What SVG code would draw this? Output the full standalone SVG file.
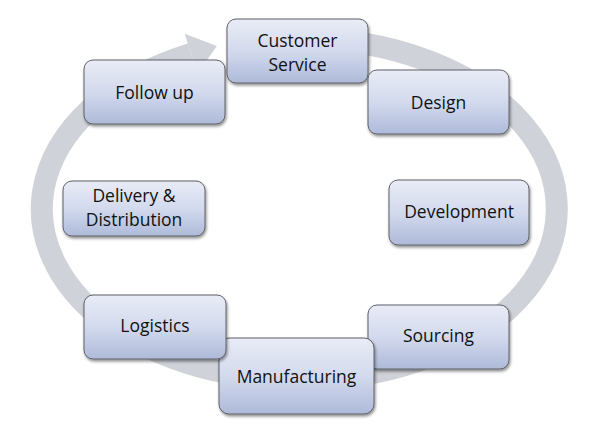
<svg xmlns="http://www.w3.org/2000/svg" width="597" height="424" viewBox="0 0 597 424">
<defs>
<linearGradient id="boxg" x1="0" y1="0" x2="0" y2="1">
<stop offset="0" stop-color="#e9ecf6"/>
<stop offset="0.5" stop-color="#d3daee"/>
<stop offset="1" stop-color="#aebad9"/>
</linearGradient>
<filter id="sh" x="-10%" y="-10%" width="130%" height="140%">
<feGaussianBlur in="SourceAlpha" stdDeviation="1.6"/>
<feOffset dx="1" dy="2" result="b"/>
<feComponentTransfer><feFuncA type="linear" slope="0.45"/></feComponentTransfer>
<feMerge><feMergeNode/><feMergeNode in="SourceGraphic"/></feMerge>
</filter>
</defs>
<style>
.box{fill:url(#boxg);stroke:#5e6166;stroke-width:1;filter:url(#sh)}
.t{font-family:"Open Sans","Liberation Sans",sans-serif;font-size:17.5px;fill:#111;text-anchor:middle}
.ring{fill:none;stroke:#d0d2d9;stroke-width:22}
</style>
<rect width="597" height="424" fill="#ffffff"/>
<g id="connectors">
<path class="ring" d="M 325.2 38.9 A 257.5 171 0 1 1 191 53.9"/>
<polygon points="184.8,33.8 216.8,46 197.2,74" fill="#d0d2d9"/>
</g>
<g id="follow-up"><rect class="box" x="84" y="60" width="141" height="64" rx="9"/><text class="t" x="154.5" y="99">Follow up</text></g>
<g id="customer-service"><rect class="box" x="227" y="19" width="141" height="64" rx="9"/><text class="t" x="297.5" y="46.5">Customer</text><text class="t" x="297.5" y="70.5">Service</text></g>
<g id="design"><rect class="box" x="368" y="70" width="141" height="64" rx="9"/><text class="t" x="438.5" y="109">Design</text></g>
<g id="development"><rect class="box" x="389" y="180" width="140" height="65" rx="9"/><text class="t" x="459" y="218">Development</text></g>
<g id="delivery-distribution"><rect class="box" x="63" y="181" width="142" height="55" rx="9"/><text class="t" x="134" y="202">Delivery &amp;</text><text class="t" x="134" y="226">Distribution</text></g>
<g id="sourcing"><rect class="box" x="368" y="305" width="141" height="64" rx="9"/><text class="t" x="438.5" y="342">Sourcing</text></g>
<g id="manufacturing"><rect class="box" x="219" y="338" width="155" height="76" rx="10"/><text class="t" x="296.5" y="383">Manufacturing</text></g>
<g id="logistics"><rect class="box" x="84" y="295" width="142" height="64" rx="9"/><text class="t" x="155" y="332">Logistics</text></g>
</svg>
